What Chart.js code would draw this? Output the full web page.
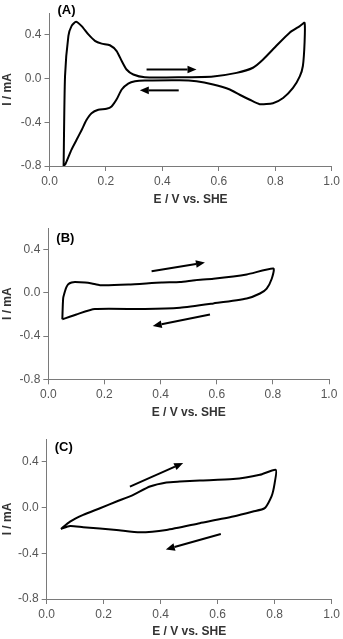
<!DOCTYPE html>
<html>
<head>
<meta charset="utf-8">
<script src="https://cdn.jsdelivr.net/npm/chart.js@4.4.1/dist/chart.umd.min.js"></script>
<style>
  html, body { margin: 0; padding: 0; background: #fff; }
  .panel { position: absolute; left: 0; width: 343px; }
  canvas { display: block; }
</style>
</head>
<body>
<div class="panel" style="top:0px;height:210px"><canvas id="chartA" width="343" height="210"></canvas></div>
<div class="panel" style="top:210px;height:210px"><canvas id="chartB" width="343" height="210"></canvas></div>
<div class="panel" style="top:420px;height:219px"><canvas id="chartC" width="343" height="219"></canvas></div>
<script>
// Datos de los voltamogramas (E en V vs. SHE, I en mA)
const aE = [0.05, 0.055, 0.067, 0.078, 0.094, 0.114, 0.137, 0.161, 0.185, 0.214, 0.238, 0.256, 0.273, 0.297, 0.338,
            0.462, 0.58, 0.663, 0.721, 0.757, 0.804, 0.851, 0.887, 0.904,
            0.904, 0.898, 0.887, 0.863, 0.828, 0.792, 0.745, 0.71, 0.674, 0.639, 0.58, 0.521, 0.462,
            0.338, 0.303, 0.279, 0.256, 0.238, 0.22, 0.202, 0.173, 0.149, 0.131, 0.114, 0.096, 0.078, 0.057, 0.05];
const aI = [-0.8, 0.02, 0.39, 0.48, 0.52, 0.48, 0.406, 0.345, 0.32, 0.305, 0.252, 0.16, 0.083, 0.037, 0.012,
            0.012, 0.02, 0.052, 0.099, 0.175, 0.30, 0.42, 0.48, 0.51,
            0.33, 0.115, 0.02, -0.086, -0.178, -0.225, -0.234, -0.194, -0.148, -0.10, -0.055, -0.025, -0.015,
            -0.018, -0.025, -0.046, -0.10, -0.19, -0.255, -0.277, -0.286, -0.317, -0.38, -0.47, -0.56, -0.65, -0.78, -0.8];

const bE = [0.05, 0.053, 0.06, 0.065, 0.071, 0.083, 0.095, 0.131, 0.155, 0.184, 0.285, 0.404, 0.469, 0.523, 0.588, 0.707, 0.802,
            0.796, 0.778, 0.754, 0.707, 0.588, 0.469, 0.344, 0.166, 0.10, 0.05];
const bI = [-0.245, -0.05, 0.02, 0.055, 0.08, 0.096, 0.1, 0.096, 0.087, 0.071, 0.077, 0.096, 0.10, 0.117, 0.13, 0.17, 0.225,
            0.13, 0.04, -0.006, -0.052, -0.098, -0.138, -0.15, -0.15, -0.2, -0.245];

const cE = [0.05, 0.082, 0.128, 0.187, 0.245, 0.304, 0.362, 0.42, 0.467, 0.537, 0.654, 0.748, 0.804,
            0.80, 0.789, 0.765, 0.724, 0.654, 0.537, 0.42, 0.327, 0.245, 0.128, 0.082, 0.05];
const cI = [-0.187, -0.123, -0.064, -0.006, 0.053, 0.111, 0.184, 0.22, 0.228, 0.237, 0.249, 0.287, 0.33,
            0.214, 0.097, -0.005, -0.035, -0.079, -0.137, -0.196, -0.216, -0.196, -0.172, -0.161, -0.187];

// Flechas de dirección de barrido [E0, I0, E1, I1]
const aArrows = [[0.344, 0.083, 0.521, 0.083], [0.458, -0.108, 0.32, -0.108]];
const bArrows = [[0.368, 0.2, 0.558, 0.28], [0.576, -0.2, 0.372, -0.307]];
const cArrows = [[0.292, 0.184, 0.479, 0.39], [0.611, -0.231, 0.418, -0.366]];

const xTicks = [0, 0.2, 0.4, 0.6, 0.8, 1.0];
const yTicks = [-0.8, -0.4, 0, 0.4];

const FONT = '"Liberation Sans", Arial, sans-serif';
const AXIS_GREY = '#7a7a7a';

// Plugin: etiqueta del panel y flechas
const extras = {
    id: 'extras',
    afterDatasetsDraw(chart, args, opts) {
        const ctx = chart.ctx;
        const x = chart.scales.x, y = chart.scales.y;
        ctx.save();
        ctx.strokeStyle = '#000';
        ctx.fillStyle = '#000';
        ctx.lineWidth = 2;
        opts.arrows.forEach(a => {
            const x0 = x.getPixelForValue(a[0]), y0 = y.getPixelForValue(a[1]);
            const x1 = x.getPixelForValue(a[2]), y1 = y.getPixelForValue(a[3]);
            const ang = Math.atan2(y1 - y0, x1 - x0);
            const len = 9, half = 3.8;
            const bx = x1 - len * Math.cos(ang), by = y1 - len * Math.sin(ang);
            ctx.beginPath();
            ctx.moveTo(x0, y0);
            ctx.lineTo(bx, by);
            ctx.stroke();
            ctx.beginPath();
            ctx.moveTo(x1, y1);
            ctx.lineTo(bx + half * Math.sin(ang), by - half * Math.cos(ang));
            ctx.lineTo(bx - half * Math.sin(ang), by + half * Math.cos(ang));
            ctx.closePath();
            ctx.fill();
        });
        ctx.font = 'bold 13px ' + FONT;
        ctx.textBaseline = 'alphabetic';
        ctx.fillText(opts.label, chart.chartArea.left + 8, chart.chartArea.top + opts.labelDy);
        ctx.restore();
    }
};

function makePanel(id, E, I, arrows, label, lay) {
    const ctx = document.getElementById(id).getContext('2d');
    return new Chart(ctx, {
        type: 'scatter',
        data: {
            datasets: [{
                data: E.map((e, i) => ({ x: e, y: I[i] })),
                showLine: true,
                borderColor: '#000',
                borderWidth: 2,
                pointRadius: 0,
                tension: 0.2,
                fill: false
            }]
        },
        plugins: [extras],
        options: {
            responsive: false,
            animation: false,
            layout: { padding: { top: lay.top, right: lay.right, bottom: 0, left: 0 } },
            plugins: {
                legend: { display: false },
                tooltip: { enabled: false },
                extras: { arrows: arrows, label: label, labelDy: lay.labelDy }
            },
            scales: {
                x: {
                    type: 'linear',
                    min: 0, max: 1,
                    afterBuildTicks: s => { s.ticks = xTicks.map(v => ({ value: v })); },
                    afterFit: s => { s.height = lay.xH; },
                    ticks: {
                        font: { family: FONT, size: 12 },
                        color: '#555',
                        padding: 3,
                        maxRotation: 0,
                        callback: v => v.toFixed(1)
                    },
                    grid: { drawOnChartArea: false, tickLength: 5, color: AXIS_GREY },
                    border: { color: AXIS_GREY, width: 1 },
                    title: {
                        display: true,
                        text: 'E / V vs. SHE',
                        font: { family: FONT, size: 12, weight: 'bold' },
                        color: '#333',
                        padding: { top: 0, bottom: lay.titleB }
                    }
                },
                y: {
                    type: 'linear',
                    min: -0.8, max: 0.6,
                    afterBuildTicks: s => { s.ticks = yTicks.map(v => ({ value: v })); },
                    afterFit: s => { s.width = lay.yW; },
                    ticks: {
                        font: { family: FONT, size: 12 },
                        color: '#555',
                        padding: 3,
                        callback: v => v.toFixed(1)
                    },
                    grid: { drawOnChartArea: false, tickLength: 5, color: AXIS_GREY },
                    border: { color: AXIS_GREY, width: 1 },
                    title: {
                        display: true,
                        text: 'I / mA',
                        font: { family: FONT, size: 12, weight: 'bold' },
                        color: '#333',
                        padding: { top: 0, bottom: 0 }
                    }
                }
            }
        }
    });
}

makePanel('chartA', aE, aI, aArrows, '(A)', { top: 13, right: 11, yW: 49.5, xH: 44, titleB: 3, labelDy: 1 });
makePanel('chartB', bE, bI, bArrows, '(B)', { top: 18, right: 14, yW: 48.3, xH: 40.7, titleB: 0, labelDy: 14 });
makePanel('chartC', cE, cI, cArrows, '(C)', { top: 19, right: 11, yW: 46.7, xH: 40, titleB: 0, labelDy: 12 });
</script>
</body>
</html>
